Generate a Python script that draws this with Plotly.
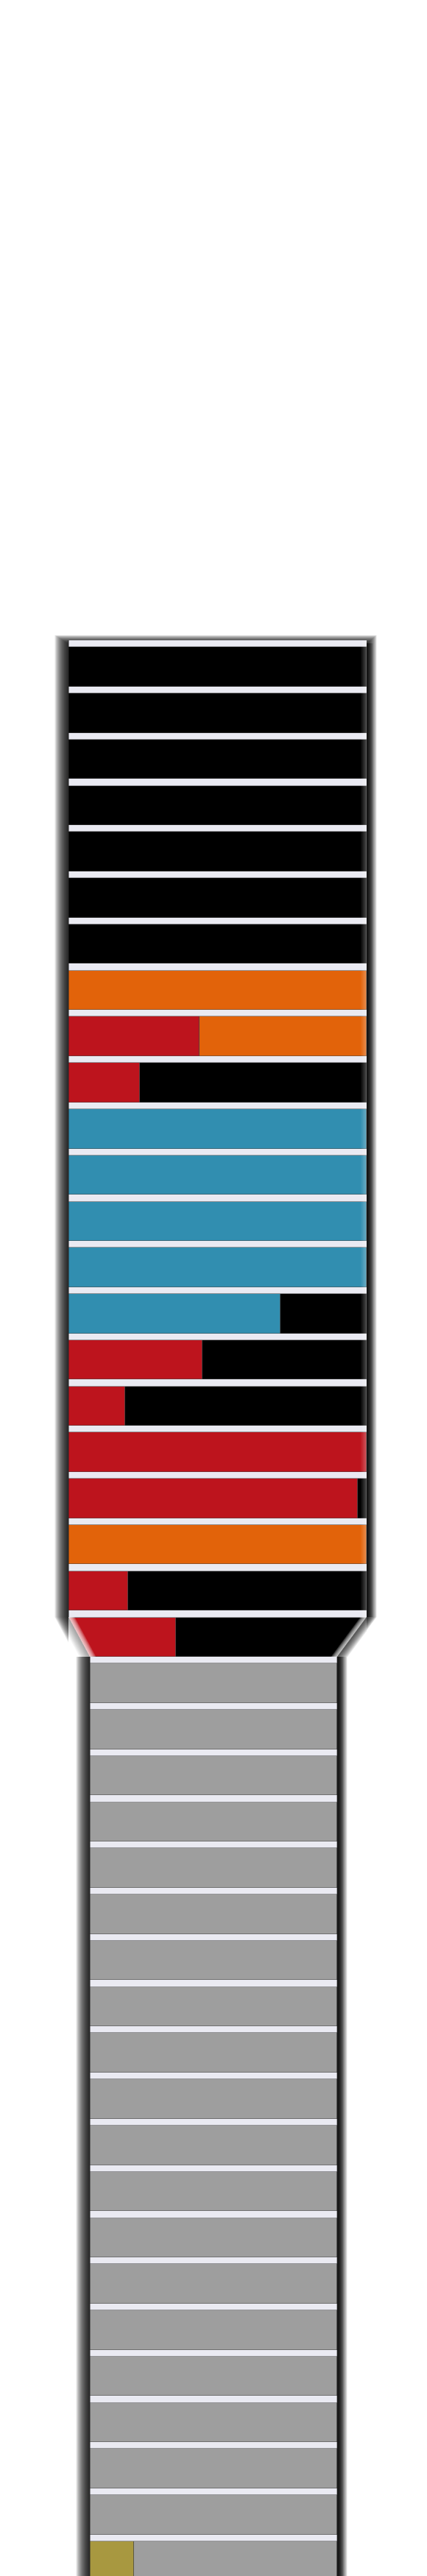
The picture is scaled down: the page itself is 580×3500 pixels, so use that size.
import plotly.graph_objects as go

W, H = 580, 3500

# ---- data: rows listed top to bottom, values in % of the row width ----
upper_red    = [0, 0, 0, 0, 0, 0, 0, 0, 44, 24, 0, 0, 0, 0, 0, 45, 19, 100, 97, 0, 20, 36]
upper_orange = [0, 0, 0, 0, 0, 0, 0, 100, 56, 0, 0, 0, 0, 0, 0, 0, 0, 0, 0, 100, 0, 0]
upper_blue   = [0, 0, 0, 0, 0, 0, 0, 0, 0, 0, 100, 100, 100, 100, 71, 0, 0, 0, 0, 0, 0, 0]
upper_black  = [100, 100, 100, 100, 100, 100, 100, 0, 0, 76, 0, 0, 0, 0, 29, 55, 81, 0, 3, 0, 80, 64]

lower_olive = [0, 0, 0, 0, 0, 0, 0, 0, 0, 0, 0, 0, 0, 0, 0, 0, 0, 0, 0, 18]
lower_gray  = [100, 100, 100, 100, 100, 100, 100, 100, 100, 100,
               100, 100, 100, 100, 100, 100, 100, 100, 100, 82]

# ---- styles ----
RED, ORANGE, BLUE, BLACK = "#BD141D", "#E2630A", "#318EB0", "#000000"
OLIVE, GRAY = "#A89840", "#9E9E9E"
LAVENDER = "#EAEAF2"
OUTLINE = dict(width=0.7, color="rgba(70,70,70,0.75)")
BAR_W = 0.852
G = 1 - BAR_W

OFF = 8  # page body margin
# page-pixel geometry of the two blocks
UX0, UX1, UY0, UY1 = 93, 498, 870, 2251     # upper block
TAPER_Y = 2197                              # where the last upper row tapers
LX0, LX1, LY0 = 122, 458, 2251              # lower block
PITCH = (UY1 - UY0) / len(upper_red)
BOTTOM = H + OFF

fig = go.Figure()


def nz(vals):
    return [v if v else None for v in vals]


rows_u = list(range(len(upper_red)))
for vals, col in [(upper_red, RED), (upper_orange, ORANGE), (upper_blue, BLUE), (upper_black, BLACK)]:
    fig.add_trace(go.Bar(x=nz(vals), y=rows_u, orientation="h", width=BAR_W,
                         marker=dict(color=col, line=OUTLINE),
                         xaxis="x", yaxis="y", showlegend=False, hoverinfo="skip"))

rows_l = list(range(len(lower_gray)))
for vals, col in [(lower_olive, OLIVE), (lower_gray, GRAY)]:
    fig.add_trace(go.Bar(x=nz(vals), y=rows_l, orientation="h", width=BAR_W,
                         marker=dict(color=col, line=OUTLINE),
                         xaxis="x2", yaxis="y2", showlegend=False, hoverinfo="skip"))


def px(x):
    return (x - OFF) / W


def py(y):
    return 1 - (y - OFF) / H


def path(pts):
    return "M " + " L ".join(f"{px(x):.6f},{py(y):.6f}" for x, y in pts) + " Z"


shapes = []


def poly(pts, color, layer):
    shapes.append(dict(type="path", path=path(pts), xref="paper", yref="paper",
                       fillcolor=color, line=dict(width=0), layer=layer))


# soft drop shadow around the silhouette (below everything)
N = 22
Lx, Rx, Ty, TOFF = 0.85, 0.62, 0.55, 5
for k in range(N, 0, -1):
    top = UY0 - Ty * k + TOFF
    pts = [(UX0 - Lx * k, top), (UX1 + Rx * k, top),
           (UX1 + Rx * k, TAPER_Y), (LX1 + Rx * k, LY0), (LX1 + Rx * k, BOTTOM + 60),
           (LX0 - Lx * k, BOTTOM + 60), (LX0 - Lx * k, LY0), (UX0 - Lx * k, TAPER_Y)]
    poly(pts, "rgba(0,0,0,0.075)", "below")

# extra depth on the right-hand shadows
for k in range(1, 11):
    s = 0.9 * k
    poly([(UX1, UY0 + 4), (UX1 + s, UY0 + 4), (UX1 + s, TAPER_Y), (UX1, TAPER_Y)], "rgba(0,0,0,0.07)", "below")
    poly([(LX1, LY0), (LX1 + s, LY0), (LX1 + s, BOTTOM + 60), (LX1, BOTTOM + 60)], "rgba(0,0,0,0.07)", "below")

# plot backgrounds
poly([(UX0, UY0), (UX1, UY0), (UX1, UY1), (UX0, UY1)], LAVENDER, "below")
poly([(LX0, LY0), (LX1, LY0), (LX1, BOTTOM + 60), (LX0, BOTTOM + 60)], LAVENDER, "below")

# dark rims on the block edges
poly([(UX0 - 1, UY0), (UX0 + 0.8, UY0), (UX0 + 0.8, TAPER_Y), (UX0 - 1, TAPER_Y)], "rgba(40,40,40,0.6)", "above")
poly([(LX0 - 1, LY0), (LX0 + 0.8, LY0), (LX0 + 0.8, BOTTOM + 60), (LX0 - 1, BOTTOM + 60)], "rgba(40,40,40,0.6)", "above")
poly([(LX1 - 0.5, LY0), (LX1 + 1, LY0), (LX1 + 1, BOTTOM + 60), (LX1 - 0.5, BOTTOM + 60)], "rgba(30,30,30,0.7)", "above")

# soft light fade at the right edge of the upper block
for j in range(6):
    poly([(UX1 - 1.3 * (j + 1), UY0), (UX1, UY0), (UX1, TAPER_Y), (UX1 - 1.3 * (j + 1), TAPER_Y)],
         "rgba(255,255,255,0.05)", "above")

# tapered corners of the last upper row
poly([(UX0, TAPER_Y), (LX0, LY0), (UX0, LY0)], "white", "above")
poly([(UX1, TAPER_Y), (UX1, LY0), (LX1, LY0)], "white", "above")
for j in range(1, 8):
    d = 1.2 * j
    poly([(UX0, TAPER_Y), (UX0 + d, TAPER_Y), (LX0 + d, LY0), (UX0, LY0)], "rgba(255,255,255,0.18)", "above")
    poly([(UX1 - d, TAPER_Y), (UX1, TAPER_Y), (UX1, LY0), (LX1 - d, LY0)], "rgba(255,255,255,0.18)", "above")

# shadow outside the diagonals
dl, dr = LX0 - UX0, UX1 - LX1
ty = LY0 - TAPER_Y
for k in range(1, 14):
    s = 1.1 * k
    yl = min(LY0, TAPER_Y + s * ty / dl)
    poly([(UX0, TAPER_Y), (LX0, LY0), (max(UX0, LX0 - s), LY0), (UX0, yl)], "rgba(0,0,0,0.03)", "above")
    yr = min(LY0, TAPER_Y + s * ty / dr)
    poly([(UX1, TAPER_Y), (LX1, LY0), (min(UX1, LX1 + s), LY0), (UX1, yr)], "rgba(0,0,0,0.08)", "above")

fig.update_layout(
    width=W, height=H,
    margin=dict(l=0, r=0, t=0, b=0),
    paper_bgcolor="white",
    plot_bgcolor="rgba(0,0,0,0)",
    barmode="stack", bargap=0,
    shapes=shapes,
    xaxis=dict(domain=[px(UX0), px(UX1)], range=[0, 100], visible=False, fixedrange=True),
    yaxis=dict(domain=[py(UY1), py(UY0)], range=[len(upper_red) - 0.5 - G / 2, -0.5 - G / 2],
               visible=False, fixedrange=True),
    xaxis2=dict(domain=[px(LX0), px(LX1)], range=[0, 100], visible=False, anchor="y2", fixedrange=True),
    yaxis2=dict(domain=[0, py(LY0)],
                range=[-0.5 - G / 2 + (BOTTOM - LY0) / PITCH, -0.5 - G / 2],
                visible=False, anchor="x2", fixedrange=True),
)

fig.write_html("out.html")
